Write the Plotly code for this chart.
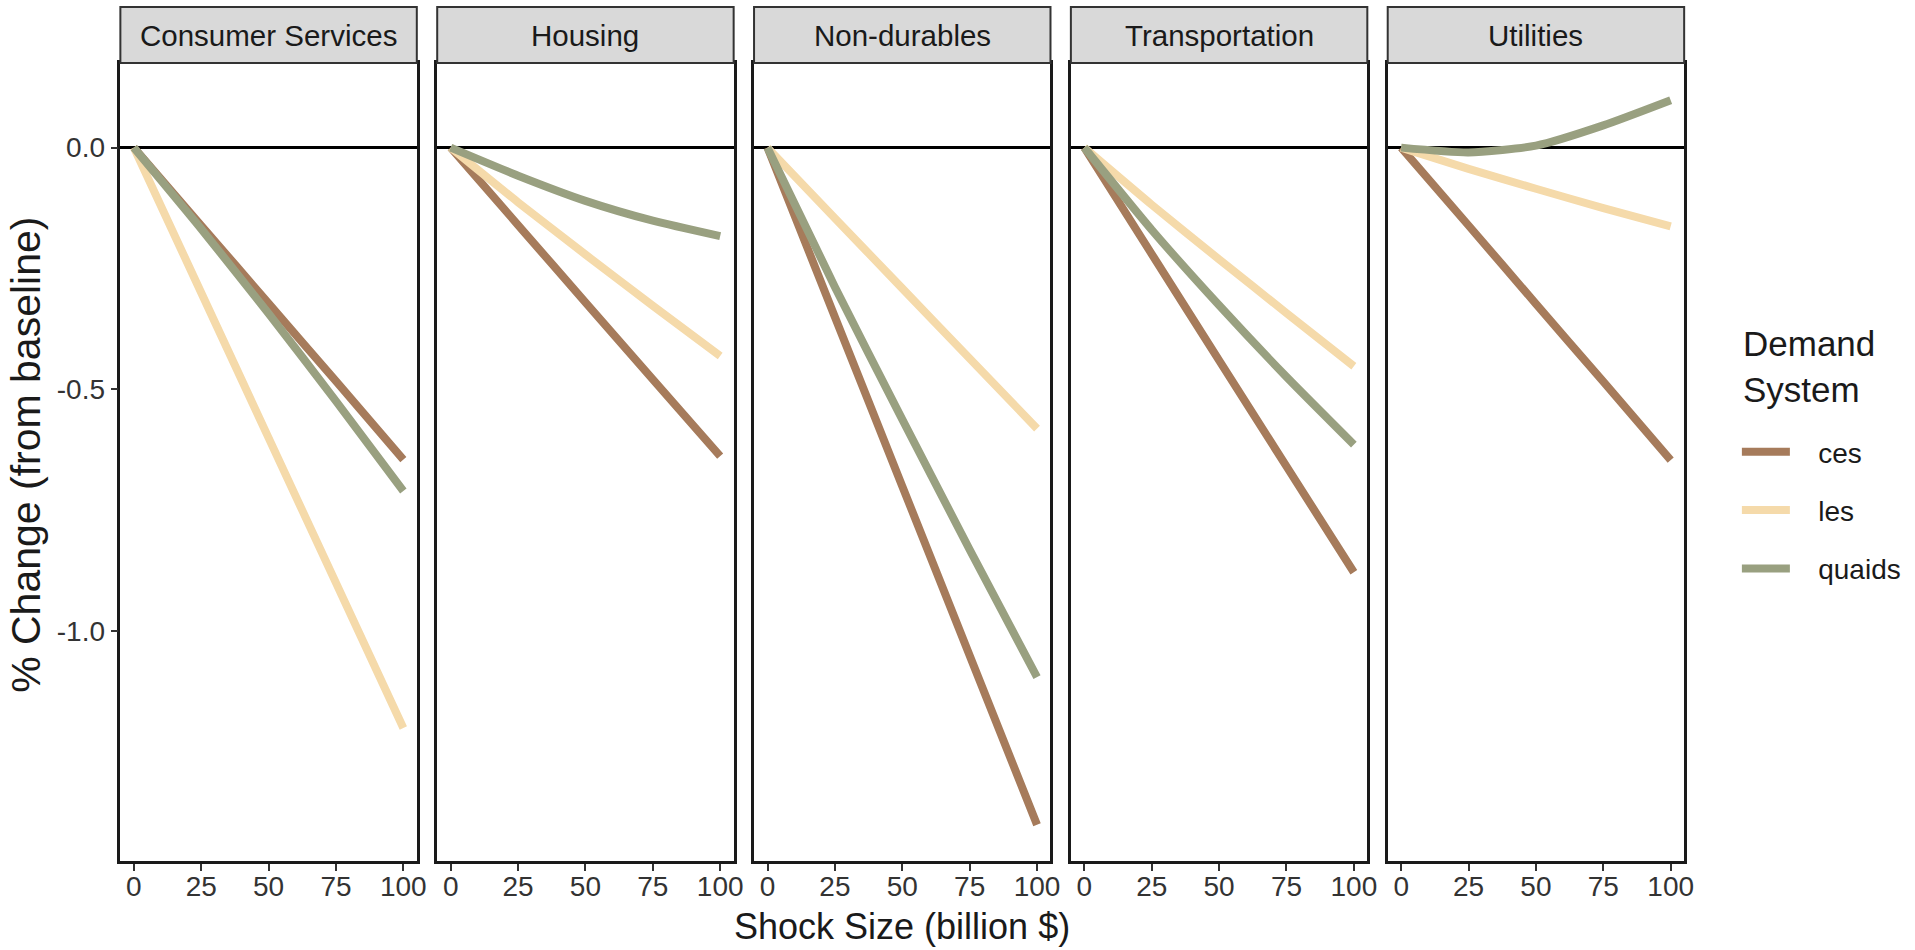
import plotly.graph_objects as go

# ---- data ----
sectors = ["Consumer Services", "Housing", "Non-durables", "Transportation", "Utilities"]
systems = ["ces", "les", "quaids"]
shock = [0, 25, 50, 75, 100]

ces_vals = {
    "Consumer Services": [0, -0.161, -0.322, -0.483, -0.645],
    "Housing":           [0, -0.160, -0.320, -0.479, -0.638],
    "Non-durables":      [0, -0.350, -0.700, -1.050, -1.400],
    "Transportation":    [0, -0.220, -0.440, -0.659, -0.878],
    "Utilities":         [0, -0.161, -0.323, -0.484, -0.646],
}
les_vals = {
    "Consumer Services": [0, -0.300, -0.600, -0.900, -1.200],
    "Housing":           [0, -0.113, -0.221, -0.327, -0.431],
    "Non-durables":      [0, -0.146, -0.291, -0.436, -0.581],
    "Transportation":    [0, -0.118, -0.231, -0.342, -0.452],
    "Utilities":         [0, -0.044, -0.085, -0.125, -0.163],
}
quaids_vals = {
    "Consumer Services": [0, -0.168, -0.343, -0.524, -0.710],
    "Housing":           [0, -0.058, -0.110, -0.151, -0.183],
    "Non-durables":      [0, -0.288, -0.562, -0.831, -1.095],
    "Transportation":    [0, -0.170, -0.326, -0.474, -0.614],
    "Utilities":         [0, -0.010, 0.004, 0.046, 0.098],
}
series = {"ces": ces_vals, "les": les_vals, "quaids": quaids_vals}

x_ticks = [0, 25, 50, 75, 100]
y_ticks = [0.0, -0.5, -1.0]
y_tick_labels = ["0.0", "-0.5", "-1.0"]

colors = {"ces": "#A67B5B", "les": "#F5DAAA", "quaids": "#99A080"}

# ---- layout geometry (pixels) ----
W, H = 1915, 950
panel_left0 = 121.0
panel_pitch = 318.5
panel_w = 298.0
plot_top, plot_bottom = 63.0, 861.0
strip_top = 7.0

FONT = "Liberation Sans, Arial, Helvetica, sans-serif"
NB = "\u00a0"

fig = go.Figure()
layout = dict(
    width=W, height=H, autosize=False,
    margin=dict(l=0, r=0, t=0, b=0),
    paper_bgcolor="white", plot_bgcolor="white",
    font=dict(family=FONT, color="#1A1A1A"),
)

shapes = []
annotations = []

for i, sec in enumerate(sectors):
    n = i + 1
    xa = "x" if n == 1 else f"x{n}"
    ya = "y" if n == 1 else f"y{n}"
    left = panel_left0 + i * panel_pitch
    right = left + panel_w
    for s in systems:
        fig.add_trace(go.Scatter(
            x=shock, y=series[s][sec], mode="lines",
            line=dict(color=colors[s], width=8, shape="spline", smoothing=0.6),
            name=NB * 3 + s, legendgroup=s, showlegend=(i == 0),
            xaxis=xa, yaxis=ya, hoverinfo="skip",
        ))
    xkey = "xaxis" if n == 1 else f"xaxis{n}"
    ykey = "yaxis" if n == 1 else f"yaxis{n}"
    layout[xkey] = dict(
        domain=[left / W, right / W], range=[-5, 105], anchor=ya,
        tickvals=x_ticks, ticktext=[str(v) for v in x_ticks],
        ticks="outside", ticklen=7, tickwidth=2, tickcolor="#333333",
        tickfont=dict(size=28, color="#333333", family=FONT),
        ticklabelstandoff=-8,
        showgrid=False, zeroline=False,
        showline=True, linecolor="#1A1A1A", linewidth=2.5, mirror=True,
        fixedrange=True,
    )
    layout[ykey] = dict(
        domain=[(H - plot_bottom) / H, (H - plot_top) / H], range=[-1.475, 0.175],
        anchor=xa,
        tickvals=y_ticks, ticktext=y_tick_labels,
        ticks="outside" if n == 1 else "", ticklen=7, tickwidth=2, tickcolor="#333333",
        showticklabels=(n == 1),
        tickfont=dict(size=28, color="#333333", family=FONT),
        showgrid=False,
        zeroline=True, zerolinecolor="#000000", zerolinewidth=2.5,
        showline=True, linecolor="#1A1A1A", linewidth=2.5, mirror=True,
        fixedrange=True,
    )
    # strip
    shapes.append(dict(
        type="rect", xref="paper", yref="paper",
        x0=left / W, x1=right / W,
        y0=(H - plot_top) / H, y1=(H - strip_top) / H,
        fillcolor="#D9D9D9", line=dict(color="#333333", width=2),
        layer="above",
    ))
    annotations.append(dict(
        text=sec, xref="paper", yref="paper",
        x=(left + right) / 2 / W, y=(H - (plot_top + strip_top) / 2) / H,
        xanchor="center", yanchor="middle", showarrow=False,
        font=dict(size=29.5, color="#1A1A1A", family=FONT),
    ))

# axis titles
annotations.append(dict(
    text="Shock Size (billion $)", xref="paper", yref="paper",
    x=(panel_left0 + 4 * panel_pitch + panel_w + panel_left0) / 2 / W, y=(H - 926) / H,
    xanchor="center", yanchor="middle", showarrow=False,
    font=dict(size=36, color="#1A1A1A", family=FONT),
))
annotations.append(dict(
    text="% Change (from baseline)", xref="paper", yref="paper",
    x=26 / W, y=(H - 455) / H, textangle=-90,
    xanchor="center", yanchor="middle", showarrow=False,
    font=dict(size=41, color="#1A1A1A", family=FONT),
))
# legend title
annotations.append(dict(
    text="Demand<br>System", xref="paper", yref="paper",
    x=1750 / W, y=(H - 367) / H, align="left",
    xanchor="left", yanchor="middle", showarrow=False,
    font=dict(size=35, color="#1A1A1A", family=FONT),
))

layout["shapes"] = shapes
layout["annotations"] = annotations
layout["legend"] = dict(
    x=1746 / W, y=(H - 427) / H, xanchor="left", yanchor="top",
    font=dict(size=28, color="#1A1A1A", family=FONT),
    bgcolor="rgba(0,0,0,0)", tracegroupgap=19, itemwidth=48,
)
fig.update_layout(**layout)
fig.write_html("out.html", post_script="document.body.style.margin='0';",
               config={"displayModeBar": False})
